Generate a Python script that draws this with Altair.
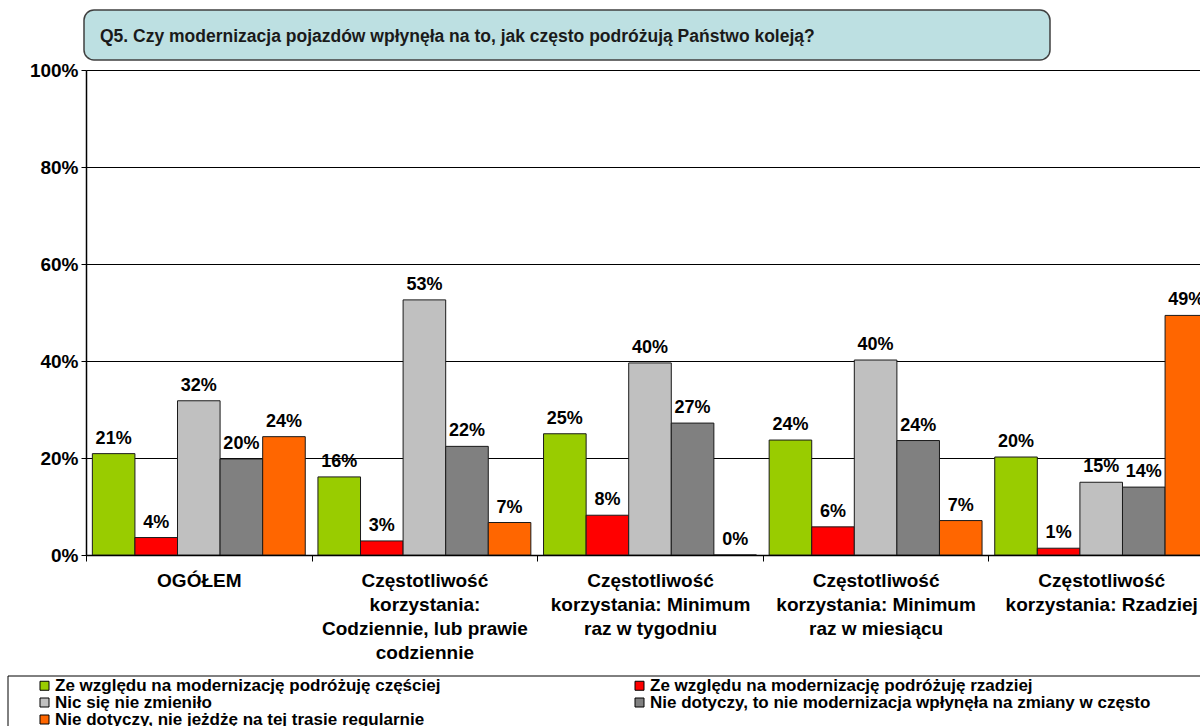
import altair as alt
import pandas as pd

categories = [
    "OGÓŁEM",
    "Częstotliwość|korzystania:|Codziennie, lub prawie|codziennie",
    "Częstotliwość|korzystania: Minimum|raz w tygodniu",
    "Częstotliwość|korzystania: Minimum|raz w miesiącu",
    "Częstotliwość|korzystania: Rzadziej",
]
series = [
    "Ze względu na modernizację podróżuję częściej",
    "Ze względu na modernizację podróżuję rzadziej",
    "Nic się nie zmieniło",
    "Nie dotyczy, to nie modernizacja wpłynęła na zmiany w często",
    "Nie dotyczy, nie jeżdżę na tej trasie regularnie",
]
colors = ["#99CC00", "#FF0000", "#C0C0C0", "#808080", "#FF6600"]
# legend reading order (filled column by column, 2 columns)
legend_order = [0, 2, 4, 1, 3]

s_czesciej = [20.9, 16.1, 25.0, 23.7, 20.2]
s_rzadziej = [3.6, 2.9, 8.2, 5.8, 1.4]
s_nic = [31.8, 52.6, 39.6, 40.2, 15.0]
s_nie_mod = [19.8, 22.4, 27.2, 23.6, 14.0]
s_nie_jezdze = [24.4, 6.7, 0.0, 7.1, 49.4]
labels_pct = [
    ["21%", "16%", "25%", "24%", "20%"],
    ["4%", "3%", "8%", "6%", "1%"],
    ["32%", "53%", "40%", "40%", "15%"],
    ["20%", "22%", "27%", "24%", "14%"],
    ["24%", "7%", "0%", "7%", "49%"],
]
title_text = "Q5. Czy modernizacja pojazdów wpłynęła na to, jak często podróżują Państwo koleją?"

all_series = [s_czesciej, s_rzadziej, s_nic, s_nie_mod, s_nie_jezdze]
rows = []
for si, (name, vals) in enumerate(zip(series, all_series)):
    for ci, cat in enumerate(categories):
        rows.append({"cat": cat, "series": name, "value": vals[ci],
                     "label": labels_pct[si][ci], "order": si})
df = pd.DataFrame(rows)

leg_domain = [series[i] for i in legend_order]
leg_range = [colors[i] for i in legend_order]

FONT = "Liberation Sans"
W, H = 1114, 485

x_enc = alt.X("cat:N", sort=categories, title=None,
              scale=alt.Scale(range=[0, 1128], paddingInner=0, paddingOuter=0),
              axis=alt.Axis(labelExpr="split(datum.label, '|')", labelAngle=0,
                            labelFontSize=19, labelFontWeight="bold", labelFont=FONT,
                            labelColor="black", labelLineHeight=24, labelPadding=10,
                            labelLimit=400, labelBaseline="top",
                            tickBand="extent", tickSize=6, tickColor="black",
                            domainColor="black", domainWidth=1.5, grid=False))
xo_enc = alt.XOffset("series:N", sort=series,
                     scale=alt.Scale(paddingInner=0, paddingOuter=0.149))
y_scale = alt.Scale(domain=[0, 100], nice=False)

bars = alt.Chart(df).mark_bar(stroke="#1a1a1a", strokeWidth=1, clip=True).encode(
    x=x_enc,
    xOffset=xo_enc,
    y=alt.Y("value:Q", scale=y_scale, title=None,
            axis=alt.Axis(values=[0, 20, 40, 60, 80, 100], labelExpr="datum.value + '%'",
                          labelFontSize=19, labelFontWeight="bold", labelFont=FONT,
                          labelColor="black", labelPadding=3, tickSize=5,
                          tickColor="black", domainColor="black", domainWidth=1.5,
                          grid=True, gridColor="#000000", gridWidth=1)),
    color=alt.Color("series:N", sort=leg_domain,
                    scale=alt.Scale(domain=leg_domain, range=leg_range),
                    legend=alt.Legend(title=None, orient="none", legendX=-50, legendY=607,
                                      columns=2, columnPadding=190, rowPadding=-3,
                                      symbolType="square", symbolSize=81,
                                      symbolStrokeColor="black", symbolStrokeWidth=1,
                                      labelFontSize=17, labelFontWeight="bold",
                                      labelFont=FONT, labelColor="black",
                                      labelLimit=600, labelOffset=2)),
)

texts = alt.Chart(df).mark_text(font=FONT, fontSize=18, fontWeight="bold",
                                color="black", baseline="alphabetic", dy=-10,
                                clip=True).encode(
    x=alt.X("cat:N", sort=categories, title=None),
    xOffset=xo_enc,
    y=alt.Y("value:Q", scale=y_scale),
    text="label:N",
)

title_box = alt.Chart(pd.DataFrame({"t": [title_text]})).mark_rect(
    fill="#BDE0E2", stroke="#404040", strokeWidth=1.5, cornerRadius=10
).encode(x=alt.value(-2), x2=alt.value(964), y=alt.value(-60), y2=alt.value(-10))

title_txt = alt.Chart(pd.DataFrame({"t": [title_text]})).mark_text(
    font=FONT, fontSize=17.5, fontWeight="bold", color="#1a1a1a",
    align="left", baseline="middle"
).encode(x=alt.value(14), y=alt.value(-33), text="t:N")

legend_box = alt.Chart(pd.DataFrame({"t": [1]})).mark_rect(
    fill="white", fillOpacity=0, stroke="black", strokeWidth=1
).encode(x=alt.value(-78), x2=alt.value(1130), y=alt.value(606), y2=alt.value(670))

chart = alt.layer(legend_box, bars, texts, title_box, title_txt).resolve_scale(
    x="shared"
).properties(
    width=W, height=H,
    autosize=alt.AutoSizeParams(type="none"),
    padding={"left": 86, "top": 70, "right": 0, "bottom": 171},
    background="white",
).configure_view(stroke=None)

chart.save("out.html", embed_options={"renderer": "svg", "actions": False})
